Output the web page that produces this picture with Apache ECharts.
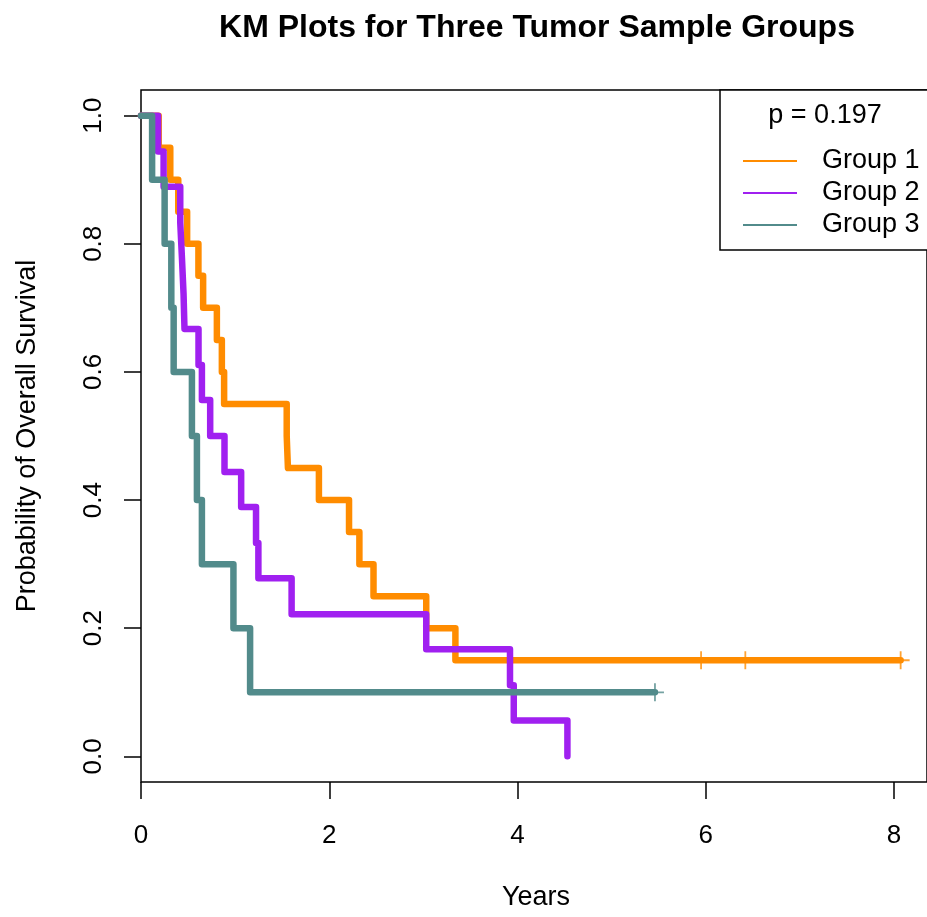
<!DOCTYPE html>
<html>
<head>
<meta charset="utf-8">
<script src="https://cdn.jsdelivr.net/npm/echarts@6/dist/echarts.min.js"></script>
<style>
  html, body { margin: 0; padding: 0; background: #ffffff; }
  #chart { width: 927px; height: 917px; }
</style>
</head>
<body>
<div id="chart"></div>
<script>
// Kaplan-Meier step curves: each point is [time in years, survival after that time]
const group1Times = [0, 0.188, 0.311, 0.396, 0.49, 0.61, 0.66, 0.806, 0.859, 0.883, 1.548, 1.561, 1.89, 2.21, 2.32, 2.47, 3.03, 3.34, 8.07];
const group1Surv  = [1, 0.95, 0.90, 0.85, 0.80, 0.75, 0.70, 0.65, 0.60, 0.55, 0.50, 0.45, 0.40, 0.35, 0.30, 0.25, 0.20, 0.15, 0.15];
const group1CensorTimes = [5.95, 6.42, 8.07];
const group1CensorSurv  = [0.15, 0.15, 0.15];

const group2Times = [0, 0.181, 0.24, 0.417, 0.435, 0.452, 0.462, 0.611, 0.647, 0.735, 0.887, 1.064, 1.222, 1.247, 1.60, 3.03, 3.92, 3.96, 4.53];
const group2Surv  = [1, 0.944, 0.889, 0.833, 0.778, 0.722, 0.667, 0.611, 0.556, 0.5, 0.444, 0.389, 0.333, 0.278, 0.222, 0.167, 0.111, 0.056, 0];

const group3Times = [0, 0.118, 0.251, 0.322, 0.347, 0.541, 0.594, 0.647, 0.982, 1.159, 5.46];
const group3Surv  = [1, 0.9, 0.8, 0.7, 0.6, 0.5, 0.4, 0.3, 0.2, 0.1, 0.1];
const group3CensorTimes = [5.46];
const group3CensorSurv  = [0.1];

const groupNames = ['Group 1', 'Group 2', 'Group 3'];
const groupColors = ['#FF8C00', '#A020F0', '#528B8B'];
const xTicks = [0, 2, 4, 6, 8];
const yTicks = [0, 0.2, 0.4, 0.6, 0.8, 1.0];
const pValueText = 'p = 0.197';

const FONT = '"Liberation Sans", Arial, Helvetica, sans-serif';

function pairs(xs, ys) { return xs.map((x, i) => [x, ys[i]]); }

function kmSeries(name, xs, ys, color) {
  return {
    name: name,
    type: 'line',
    step: 'end',
    data: pairs(xs, ys),
    showSymbol: false,
    symbol: 'none',
    silent: true,
    lineStyle: { color: color, width: 6.5, cap: 'round', join: 'round' },
    itemStyle: { color: color },
    z: 3
  };
}

function censorSeries(name, xs, ys, color) {
  return {
    name: name,
    type: 'scatter',
    data: pairs(xs, ys),
    symbol: 'path://M5,0L5,10M0,5L10,5',
    symbolSize: 18,
    silent: true,
    itemStyle: { color: 'none', borderColor: color, borderWidth: 1.8 },
    z: 4
  };
}

const chart = echarts.init(document.getElementById('chart'), null, { renderer: 'canvas' });

chart.setOption({
  animation: false,
  backgroundColor: '#ffffff',
  grid: {
    left: 141, top: 90, right: -2, bottom: 135,
    show: true, borderColor: '#000000', borderWidth: 1.5,
    backgroundColor: 'transparent'
  },
  xAxis: {
    type: 'value',
    min: 0, max: 8.35,
    axisLine: { show: false, onZero: false },
    splitLine: { show: false },
    axisTick: { show: true, inside: false, length: 17, lineStyle: { color: '#000', width: 1.5 }, customValues: xTicks },
    axisLabel: {
      customValues: xTicks, margin: 41,
      color: '#000', fontFamily: FONT, fontSize: 26,
      formatter: v => String(v)
    }
  },
  yAxis: {
    type: 'value',
    min: -0.04, max: 1.04,
    axisLine: { show: false, onZero: false },
    splitLine: { show: false },
    axisTick: { show: true, inside: false, length: 17, lineStyle: { color: '#000', width: 1.5 }, customValues: yTicks },
    axisLabel: {
      customValues: yTicks, margin: 34, rotate: 90,
      color: '#000', fontFamily: FONT, fontSize: 26,
      formatter: v => v.toFixed(1)
    }
  },
  legend: {
    data: groupNames,
    orient: 'vertical',
    left: 738, top: 140,
    itemGap: 0,
    itemWidth: 54, itemHeight: 2,
    icon: 'rect',
    selectedMode: false,
    textStyle: { fontFamily: FONT, fontSize: 27, color: '#000', lineHeight: 32, padding: [0, 0, 0, 20] }
  },
  graphic: [
    {
      type: 'text', x: 537, y: 28,
      style: { text: 'KM Plots for Three Tumor Sample Groups', fontFamily: FONT, fontSize: 32, fontWeight: 'bold', fill: '#000', align: 'center', verticalAlign: 'middle' }
    },
    {
      type: 'text', x: 536, y: 898,
      style: { text: 'Years', fontFamily: FONT, fontSize: 27, fill: '#000', align: 'center', verticalAlign: 'middle' }
    },
    {
      type: 'text', x: 28, y: 436, rotation: Math.PI / 2,
      style: { text: 'Probability of Overall Survival', fontFamily: FONT, fontSize: 27, fill: '#000', align: 'center', verticalAlign: 'middle' }
    },
    {
      type: 'rect', z: 1,
      shape: { x: 720, y: 90, width: 220, height: 160 },
      style: { fill: '#ffffff', stroke: '#000000', lineWidth: 1.5 }
    },
    {
      type: 'text', x: 825, y: 116, z: 2,
      style: { text: pValueText, fontFamily: FONT, fontSize: 27, fill: '#000', align: 'center', verticalAlign: 'middle' }
    }
  ],
  series: [
    kmSeries(groupNames[0], group1Times, group1Surv, groupColors[0]),
    kmSeries(groupNames[1], group2Times, group2Surv, groupColors[1]),
    kmSeries(groupNames[2], group3Times, group3Surv, groupColors[2]),
    censorSeries('Group 1 censored', group1CensorTimes, group1CensorSurv, groupColors[0]),
    censorSeries('Group 3 censored', group3CensorTimes, group3CensorSurv, groupColors[2])
  ]
});
</script>
</body>
</html>
